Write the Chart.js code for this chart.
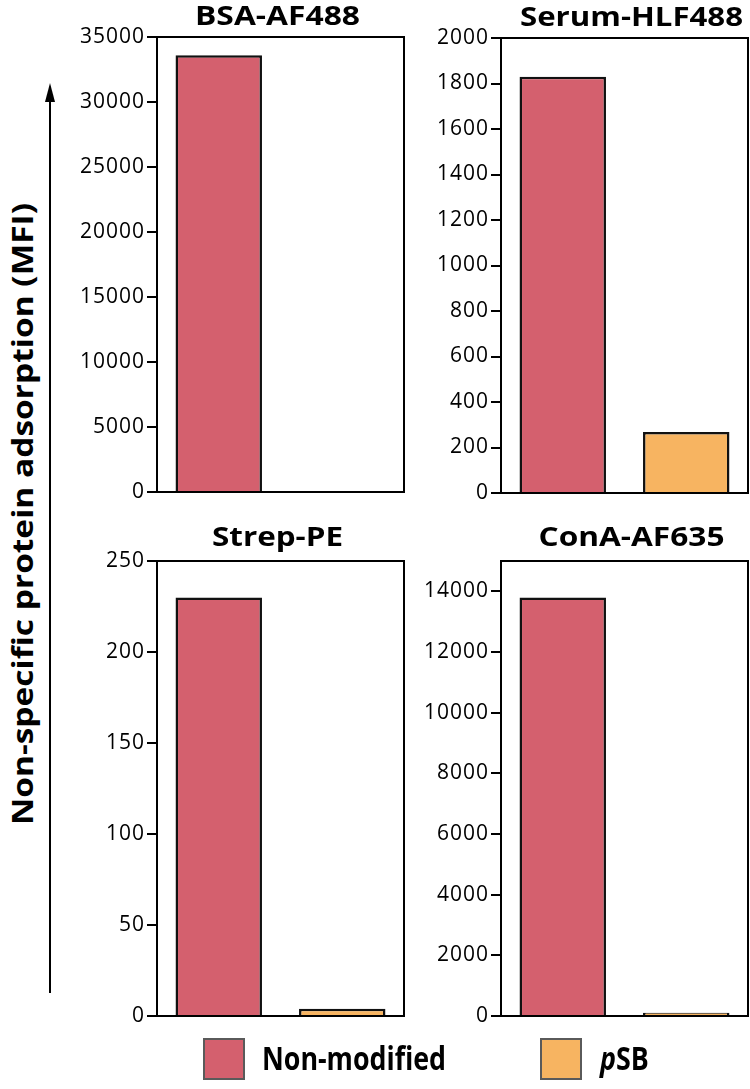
<!DOCTYPE html>
<html>
<head>
<meta charset="utf-8">
<script src="https://cdn.jsdelivr.net/npm/chart.js@4.4.1/dist/chart.umd.min.js"></script>
<style>
  html, body { margin: 0; padding: 0; background: #fff; }
  body { width: 750px; height: 1089px; position: relative; overflow: hidden; font-family: "Open Sans", sans-serif; }
  .panel { position: absolute; width: 349px; height: 510px; }
  #ytitle { position: absolute; left: 22px; top: 514px; white-space: nowrap; font-weight: 700; font-size: 29px;
            color: #000; line-height: 1; transform-origin: 0 0; }
  .legend-box { position: absolute; width: 38px; height: 38px; border: 2px solid #5a5a5a; }
  .legend-text { position: absolute; font-weight: 700; font-size: 32px; color: #000; line-height: 1; white-space: nowrap;
                 transform-origin: 0 50%; }
</style>
</head>
<body>
<script>
// ---------------- data ----------------
const categories = ['Non-modified', 'pSB'];
const panelTitles = ['BSA-AF488', 'Serum-HLF488', 'Strep-PE', 'ConA-AF635'];
const bsaValues = [33600, 30];
const serumValues = [1830, 268];
const strepValues = [230, 4];
const conaValues = [13800, 110];
const axisMax = [35000, 2000, 250, 15000];
const bsaTicks = [0, 5000, 10000, 15000, 20000, 25000, 30000, 35000];
const serumTicks = [0, 200, 400, 600, 800, 1000, 1200, 1400, 1600, 1800, 2000];
const strepTicks = [0, 50, 100, 150, 200, 250];
const conaTicks = [0, 2000, 4000, 6000, 8000, 10000, 12000, 14000];
const yAxisTitle = 'Non-specific protein adsorption (MFI)';
</script>

<div class="panel" style="left:57px; top:0px;"><canvas id="c0" width="349" height="510"></canvas></div>
<div class="panel" style="left:401px; top:1px;"><canvas id="c1" width="349" height="510"></canvas></div>
<div class="panel" style="left:57px; top:524px;"><canvas id="c2" width="349" height="510"></canvas></div>
<div class="panel" style="left:401px; top:524px;"><canvas id="c3" width="349" height="510"></canvas></div>

<div id="ytitle"></div>
<svg style="position:absolute; left:0; top:0;" width="750" height="1089">
  <line x1="50" y1="993" x2="50" y2="98" stroke="#000" stroke-width="2"/>
  <polygon points="50,83 45,102 55,102" fill="#000"/>
</svg>

<div class="legend-box" style="left:203px; top:1038px; background:#D4606E;"></div>
<div class="legend-text" id="lt0" style="left:262px; top:1042px;"></div>
<div class="legend-box" style="left:540px; top:1038px; background:#F7B461;"></div>
<div class="legend-text" id="lt1" style="left:600px; top:1042px;"></div>

<script>
const barColors = ['#D4606E', '#F7B461'];
const seriesValues = [bsaValues, serumValues, strepValues, conaValues];
const tickSets = [bsaTicks, serumTicks, strepTicks, conaTicks];
const titleDx = [-3, 7, -3, 7];
const titleGap = [12, 12, 15, 15];
const titleTargetW = [165, 223, 131, 186];

const measureCtx = document.createElement('canvas').getContext('2d');
function textW(text, font) { measureCtx.font = font; return measureCtx.measureText(text).width; }

const framePlugin = {
  id: 'frame',
  afterDatasetsDraw(chart) {
    const { ctx, chartArea: a } = chart;
    ctx.save();
    ctx.strokeStyle = '#000';
    ctx.lineWidth = 2;
    ctx.strokeRect(a.left, a.top, a.right - a.left, a.bottom - a.top);
    ctx.restore();
  },
  afterDraw(chart, args, opts) {
    const { ctx, chartArea: a } = chart;
    ctx.save();
    const font = '700 26px "Open Sans"';
    const w = textW(opts.text, font);
    const sx = opts.targetW / w;
    ctx.letterSpacing = '0px';
    ctx.font = font;
    ctx.fillStyle = '#000';
    ctx.textAlign = 'center';
    ctx.textBaseline = 'alphabetic';
    ctx.translate((a.left + a.right) / 2 + opts.dx, a.top - opts.gap);
    ctx.scale(sx, 1);
    ctx.fillText(opts.text, 0, 0);
    ctx.restore();
  }
};

const spacingPlugin = {
  id: 'spacing',
  beforeDraw(chart) { chart.ctx.letterSpacing = '1px'; }
};

for (let i = 0; i < 4; i++) {
  const ticksList = tickSets[i];
  new Chart(document.getElementById('c' + i), {
    type: 'bar',
    data: {
      labels: categories,
      datasets: [{
        label: panelTitles[i],
        data: seriesValues[i],
        backgroundColor: barColors,
        borderColor: '#111',
        borderWidth: 2.5,
        barPercentage: 0.7,
        categoryPercentage: 1.0
      }]
    },
    options: {
      responsive: false,
      animation: false,
      devicePixelRatio: 1,
      layout: { padding: { top: 37, bottom: 18, right: 2, left: 0 } },
      plugins: {
        legend: { display: false },
        tooltip: { enabled: false },
        frame: { text: panelTitles[i], dx: titleDx[i], gap: titleGap[i], targetW: titleTargetW[i] }
      },
      scales: {
        x: { display: false },
        y: {
          min: 0,
          max: axisMax[i],
          afterBuildTicks(scale) { scale.ticks = ticksList.map(v => ({ value: v })); },
          afterFit(scale) { scale.width = 100; },
          border: { display: true, color: '#000', width: 2 },
          grid: { drawOnChartArea: false, drawTicks: true, tickLength: 10, color: '#000', lineWidth: 2 },
          ticks: {
            autoSkip: false,
            padding: 2,
            color: '#000',
            font: { family: '"Open Sans"', size: 21 },
            callback(v) { return String(v); }
          }
        }
      }
    },
    plugins: [framePlugin, spacingPlugin]
  });
}

// y axis title: rotated, fitted to the reference length
const yt = document.getElementById('ytitle');
yt.textContent = yAxisTitle;
const ytw = textW(yAxisTitle, '700 29px "Open Sans"');
const sx = 622 / ytw;
yt.style.transform = `rotate(-90deg) translate(${-ytw * sx / 2}px, ${-15}px) scale(${sx}, 1.0)`;
// legend text
const lt0 = document.getElementById('lt0');
lt0.textContent = categories[0];
const w0 = textW(categories[0], '700 32px "Open Sans"');
lt0.style.transform = `scaleX(${184 / w0})`;
const lt1 = document.getElementById('lt1');
lt1.innerHTML = '<i>p</i>SB';
lt1.style.transform = `scaleX(${184 / w0})`;
</script>
</body>
</html>
